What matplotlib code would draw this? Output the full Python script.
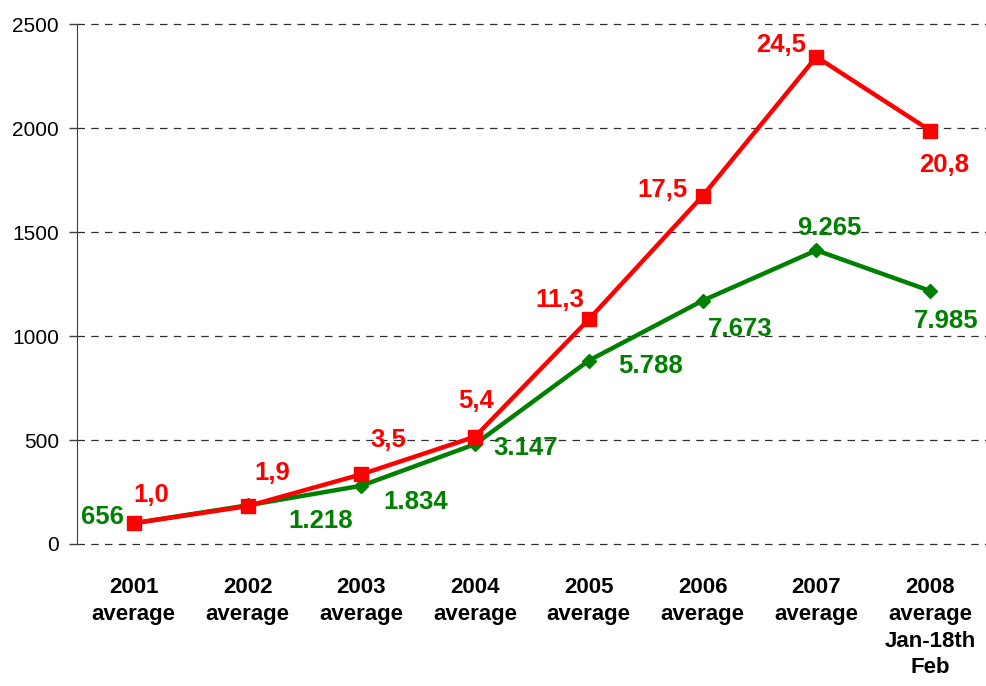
import matplotlib.pyplot as plt

plt.rcParams['font.family'] = ['Liberation Sans', 'DejaVu Sans']

# categories and series (index, 2001 = 100)
categories = ['2001\naverage', '2002\naverage', '2003\naverage', '2004\naverage',
              '2005\naverage', '2006\naverage', '2007\naverage',
              '2008\naverage\nJan-18th\nFeb']
red_values = [100, 182, 335, 516, 1080, 1673, 2342, 1988]
green_values = [100, 186, 280, 480, 882, 1170, 1412, 1217]
red_labels = ['1,0', '1,9', '3,5', '5,4', '11,3', '17,5', '24,5', '20,8']
green_labels = ['656', '1.218', '1.834', '3.147', '5.788', '7.673', '9.265', '7.985']

# label offsets in pixels (dx, dy; dy positive = up)
red_offsets = [(17, 28), (25, 33), (27, 34), (1, 36), (-29, 19), (-40, 6), (-35, 12), (14, -34)]
green_offsets = [(-31, 6), (73, -16), (54, -16), (51, -4), (62, -5), (38, -28), (13, 22), (16, -30)]

fig = plt.figure(figsize=(9.87, 6.86), dpi=100)
ax = fig.add_axes([0.078, 0.207, 0.922, 0.758])

x = list(range(len(categories)))
ax.plot(x, green_values, color='#008000', lw=3.2, marker='D', ms=7, zorder=3)
ax.plot(x, red_values, color='#FF0000', lw=3.2, marker='s', ms=10.5, zorder=4)

for i in x:
    ax.annotate(red_labels[i], (i, red_values[i]), xytext=(red_offsets[i][0] * 0.72, red_offsets[i][1] * 0.72),
                textcoords='offset points', ha='center', va='center',
                color='#FF0000', fontsize=18.5, fontweight='bold', zorder=5)
    ax.annotate(green_labels[i], (i, green_values[i]), xytext=(green_offsets[i][0] * 0.72, green_offsets[i][1] * 0.72),
                textcoords='offset points', ha='center', va='center',
                color='#008000', fontsize=18.5, fontweight='bold', zorder=5)

ax.set_xlim(-0.5, 7.5)
ax.set_ylim(0, 2500)
ax.set_yticks([0, 500, 1000, 1500, 2000, 2500])
ax.set_xticks(x)
ax.set_xticklabels(categories, fontsize=16, fontweight='bold', linespacing=1.35, va='top')
ax.tick_params(axis='x', length=0, pad=24)
ax.tick_params(axis='y', labelsize=15, length=6, width=1, color='#404040', pad=7)

ax.grid(axis='y', linestyle=(0, (6, 5)), color='#303030', linewidth=0.9)
for gl in ax.get_ygridlines():
    gl.set_clip_on(False)
ax.set_axisbelow(True)
for side in ['top', 'right', 'bottom']:
    ax.spines[side].set_visible(False)
ax.spines['left'].set_color('#404040')

plt.savefig('out.png', dpi=100)
